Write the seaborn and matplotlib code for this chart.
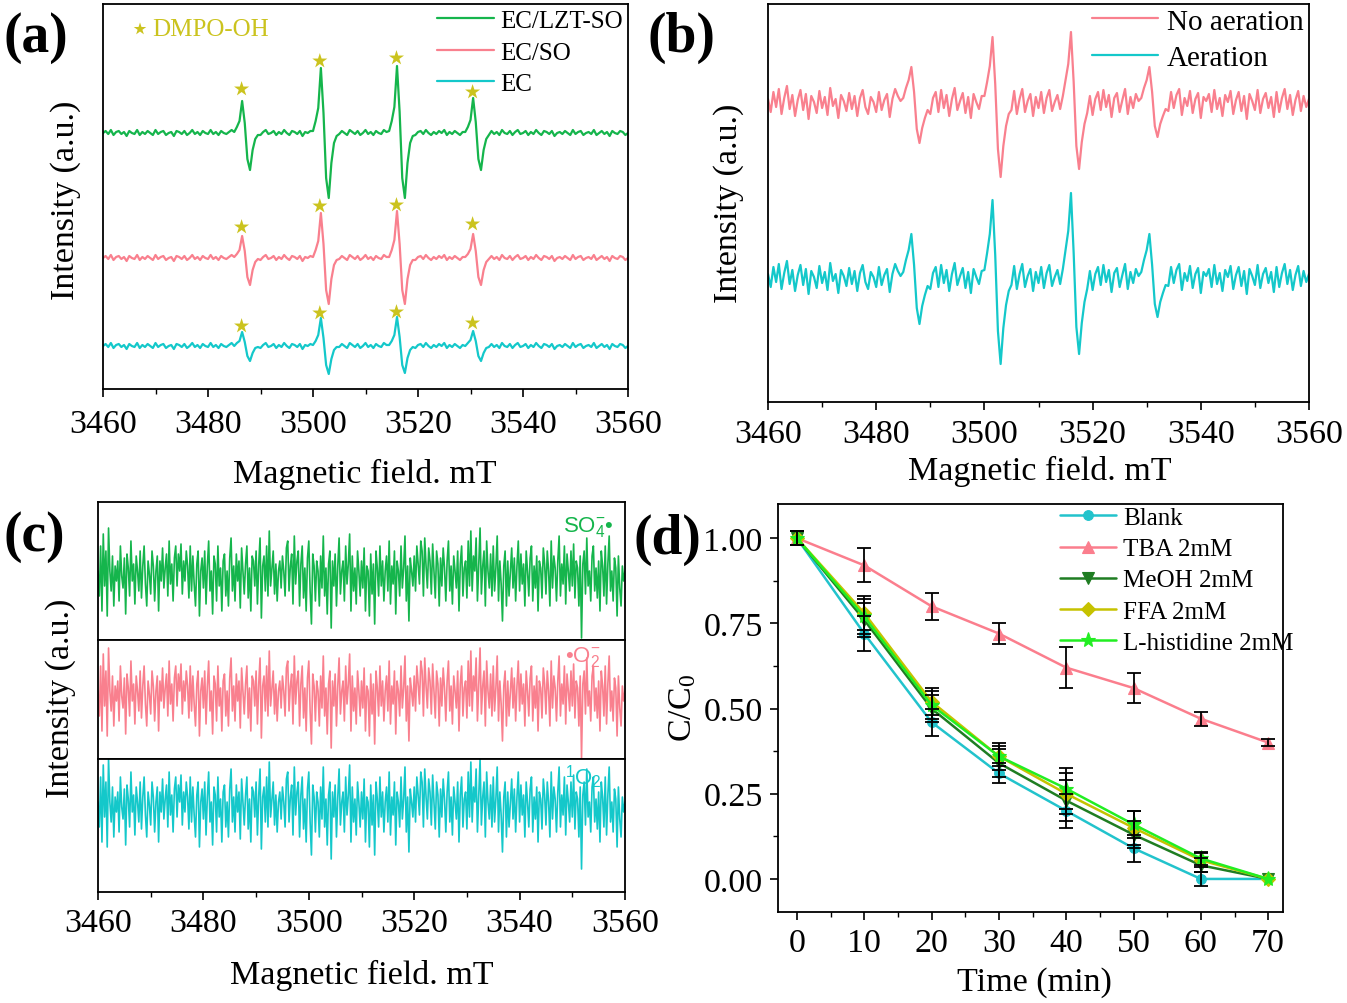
import numpy as np
import pandas as pd
import matplotlib
matplotlib.use("Agg")
import matplotlib.pyplot as plt
import seaborn as sns
from matplotlib.ticker import MultipleLocator, NullLocator, FormatStrFormatter

# ============================ DATA ============================
FIELD_RANGE = [3460, 3560]

# ---- (a) DMPO-OH spectra (0.5 mT steps): baseline noise segments + 4 line shapes
A_NOISE = [
    [0, 2, -1, 3, -2, 1, 2, -1, 1, -3, 2, 0, -1, 3, -2, 1, -1, 2, 0, -2,
     3, -1, 1, 2, -2, 0, 1, -3, 2, 1, -1, 2, -2, 0, 3, -1, 1, -2, 2, 0,
     -1, 3, -1, 1, -2, 2, 0, -1, 1, 3],
    [-2, 1, 3, -1, 0, 2, -2, 1, -1, 3, 0, -2, 2, 1, -1, 2, -3, 1, 0, 2],
    [-1, 2, 0, -2, 3, 1, -1, 2, -2, 0, 3, -1, 1, -2, 2, 0, -1, 3, 1],
    [-2, 1, 2, -1, 3, 0, -2, 1, -1, 2, 0, 3, -2, 1, -1, 2, 0, -2, 1],
    [2, -1, 1, -2, 3, 0, -1, 2, -2, 1, 3, -1, 0, 2, -2, 1, -1, 3, 0, -2,
     2, 1, -1, 2, -3, 0, 1, -1, 2, 0, -2, 3, -1, 1, 2, -2, 0, 1, -1, 3,
     -2, 0, 2, -1, 1, -3, 2, 0, -1, 2, 1, -2, 0],
]
A_PEAKS_LZT = [[1, 6, 12, 32, 10, -26, -37, -17, -6, -2],
               [2, 12, 25, 65, 20, -45, -65, -30, -10, -3],
               [2, 12, 26, 67, 21, -45, -65, -30, -10, -3],
               [1, 6, 13, 35, 11, -26, -37, -17, -6, -2]]
A_PEAKS_SO = [[1, 4, 8, 22, 7, -19, -27, -12, -4, -1],
              [1, 8, 17, 45, 14, -32, -46, -21, -7, -2],
              [1, 8, 18, 47, 14, -32, -46, -21, -7, -2],
              [1, 4, 9, 24, 7, -19, -27, -12, -4, -1]]
A_PEAKS_EC = [[0, 3, 5, 14, 4, -10, -15, -7, -2, -1],
              [1, 5, 11, 28, 8, -19, -28, -13, -4, -1],
              [1, 5, 11, 29, 9, -19, -27, -12, -4, -1],
              [0, 3, 6, 15, 5, -10, -15, -7, -2, -1]]
A_STAR_FIELD = [3486.4, 3501.3, 3515.9, 3530.4]
A_STAR_LZT = [44, 72, 75, 41]
A_STAR_SO = [31, 52, 53, 34]
A_STAR_EC = [20, 33, 34, 23]
A_LABELS = ["EC/LZT-SO", "EC/SO", "EC"]

# ---- (b) aeration spectra
B_NOISE = [
    [5, -8, 12, -3, 15, -10, 6, 18, -5, 9, -12, 4, 14, -6, 10, -15, 8, 2, -9, 13,
     -4, 7, -11, 16, -2, 5, -14, 9, 3, -7, 11, -5, 8, -12, 6, 14, -3, -10, 7, 2,
     -8, 12, -6, 4, 10, -13, 5, 15, 8, 3],
    [-10, 6, 12, -8, 14, -4, 9, -12, 5, 16, -6, 3, 11, -9, 7, -14, 10, 2, -5, 8],
    [-6, 13, -10, 5, 15, -8, 3, 10, -12, 7, -4, 12, -9, 6, 14, -7, 2, 9, -5],
    [8, -11, 5, 12, -6, 14, -3, 9, -13, 6, 11, -8, 4, 15, -10, 7, -4, 10, 3],
    [-7, 12, -4, 9, 15, -11, 6, -2, 13, -9, 5, 11, -14, 7, 3, 10, -8, 14, -5, 6,
     -12, 9, 2, 13, -10, 4, 12, -7, 8, -15, 10, 3, -6, 14, -9, 5, 11, -4, 7, -13,
     12, -8, 6, 15, -5, 9, -11, 4, 13, -7, 8, -3, 5],
]
B_PEAKS_NO = [[6, 16, 24, 37, 12, -25, -39, -24, -14, -6],
              [8, 22, 38, 67, 20, -45, -73, -42, -22, -10],
              [8, 24, 40, 72, 22, -42, -65, -38, -20, -9],
              [6, 16, 24, 37, 12, -22, -33, -20, -12, -5]]
B_PEAKS_AIR = [[7, 19, 29, 45, 14, -29, -45, -27, -16, -7],
               [9, 26, 45, 79, 24, -52, -85, -49, -26, -12],
               [10, 29, 48, 86, 26, -48, -75, -44, -23, -10],
               [7, 19, 29, 45, 14, -25, -38, -23, -14, -6]]
B_LABELS = ["No aeration", "Aeration"]

# ---- (c) silent spectra (0.25 mT steps)
C_NOISE = [
    5, -20, 30, -35, 42, -10, 25, -40, 48, 5, -15, 20, -30, 10, -5, 15, -25, 30, 0, -12,
    18, -38, 22, 8, -20, 35, -5, 12, -28, 20, 5, -15, 25, -22, 10, 30, -8, -30, 15, 2,
    -18, 25, 10, -25, 5, 20, -35, 15, -5, 28, -12, 8, 22, -20, 35, -8, 12, -25, 18, 30,
    -10, 22, 5, 32, -18, 15, -5, 25, 10, -22, 30, -15, 20, -8, -30, 12, 25, -40, 5, 18,
    -12, 25, -28, 10, 35, -15, 5, -38, 20, 12, -25, 30, -10, 8, -35, 15, 22, -20, 5, -30,
    18, 38, -15, 10, -25, 22, -5, 15, -32, 28, 5, -18, 12, 30, -22, 8, -35, 20, 15, -10,
    25, -28, 12, 38, -42, 10, 20, -15, 30, -20, 45, -10, 8, 25, -18, 12, -25, 5, 15, -12,
    20, 5, -20, 28, 35, -15, 10, 22, -28, 40, -8, 15, 25, -30, 12, 30, -22, 8, -35, 18,
    35, -15, -48, 22, 10, -25, 15, 5, -30, 20, -12, 40, -20, 8, -38, 12, 25, -52, 15, -10,
    22, -30, 10, 38, -18, 5, 15, -25, 30, -8, 12, 42, -35, 20, -15, 8, -28, 25, 5, -20,
    15, -12, 28, -35, 10, 5, -40, 22, -18, 12, -48, 25, 8, -20, 30, -10, 15, -25, 5, 20,
    -15, 35, -28, 10, -8, 25, -38, 15, 5, -20, 30, -12, 8, 40, -25, 10, -45, 18, 5, -10,
    20, -15, 30, 12, -8, 35, 25, -20, 38, 10, -12, 28, 15, -18, 32, 5, -22, 25, 12, -30,
    18, -10, 28, 8, -25, 15, 35, -15, 10, -28, 20, 5, -12, 25, -35, 12, 30, -20, 8, 15,
    -22, 35, -10, 45, -15, 20, 5, 38, -25, 12, 48, -18, 10, 25, -30, 35, 5, -12, 22, -20,
    30, -15, 8, 40, -25, 15, -8, -45, 10, 25, -30, 15, -20, 5, 28, -12, 18, -25, 10, 35,
    -15, 22, -8, 12, -30, 25, 5, -20, 18, 30, -25, 10, -12, 20, -35, 15, 8, -22, 28, 12,
    -18, 25, 5, -30, 35, -12, 20, 8, -25, 15, 40, -20, 12, -8, 30, -28, 22, 5, -15, 25,
    -10, 32, -22, 15, 8, -30, 20, -62, 12, 25, -18, 38, -10, 5, -25, 20, 30, -15, 8, -22,
    15, -35, 25, 10, -20, 30, -28, 12, 40, -15, 5, -25, 18, 8, -40, 20, -12, -30, 10, -5,
    5,
]

# ---- (d) degradation with scavengers
TIME = [0, 10, 20, 30, 40, 50, 60, 70]
BLANK = [1.00, 0.72, 0.46, 0.31, 0.20, 0.09, 0.00, 0.00]
BLANK_ERR = [0.02, 0.05, 0.04, 0.03, 0.05, 0.04, 0.02, 0.0]
TBA = [1.00, 0.92, 0.80, 0.72, 0.62, 0.56, 0.47, 0.40]
TBA_ERR = [0.02, 0.05, 0.04, 0.03, 0.06, 0.045, 0.02, 0.01]
MEOH = [1.00, 0.76, 0.50, 0.34, 0.23, 0.13, 0.04, 0.00]
MEOH_ERR = [0.02, 0.05, 0.04, 0.04, 0.06, 0.04, 0.02, 0.0]
FFA = [1.00, 0.78, 0.52, 0.36, 0.25, 0.15, 0.055, 0.00]
FFA_ERR = [0.02, 0.05, 0.04, 0.04, 0.06, 0.05, 0.02, 0.0]
LHIS = [1.00, 0.77, 0.51, 0.36, 0.265, 0.16, 0.06, 0.00]
LHIS_ERR = [0.02, 0.05, 0.04, 0.03, 0.06, 0.04, 0.02, 0.0]
D_LABELS = ["Blank", "TBA 2mM", "MeOH 2mM", "FFA 2mM", "L-histidine 2mM"]

# ============================ STYLE ============================
sns.set_style("ticks")
plt.rcParams["font.family"] = ["Liberation Serif", "DejaVu Serif"]
plt.rcParams["mathtext.fontset"] = "custom"
plt.rcParams["mathtext.rm"] = "Liberation Serif"
plt.rcParams["mathtext.it"] = "Liberation Serif:italic"
plt.rcParams["axes.edgecolor"] = "black"
plt.rcParams["axes.linewidth"] = 1.3
plt.rcParams["xtick.color"] = "black"
plt.rcParams["ytick.color"] = "black"
plt.rcParams["text.color"] = "black"

GREEN = "#15B54C"
PINK = "#F9808E"
CYAN = "#14C8CA"
STAR = "#CBC31E"
A_COLORS = [GREEN, PINK, CYAN]
A_OFFSET = [256, 131, 43]
B_COLORS = [PINK, CYAN]
B_OFFSET = [298, 123]

W, H = 1347, 1004
fig = plt.figure(figsize=(W / 100, H / 100), dpi=100)


def box(l, t, r, b):
    return [l / W, 1 - b / H, (r - l) / W, (b - t) / H]


def assemble(noise, peaks):
    out = []
    for seg, pk in zip(noise, peaks):
        out.extend(seg)
        out.extend(pk)
    out.extend(noise[-1])
    return np.array(out, dtype=float)


def field_axis(ax, labels=True, pad=7):
    ax.set_xlim(*FIELD_RANGE)
    ax.xaxis.set_major_locator(MultipleLocator(20))
    ax.xaxis.set_minor_locator(MultipleLocator(10))
    ax.yaxis.set_major_locator(NullLocator())
    ax.yaxis.set_minor_locator(NullLocator())
    ax.tick_params(axis="x", which="major", direction="out", length=6, width=1.2,
                   labelsize=24.5, pad=pad, bottom=labels, labelbottom=labels, top=False)
    ax.tick_params(axis="x", which="minor", direction="out", length=3.5, width=1.0,
                   bottom=labels, top=False)
    ax.set_xlabel("")
    ax.set_ylabel("")


# ============================ (a) ============================
axA = fig.add_axes(box(103, 5, 628, 390))
for lab, peaks, stars, col, off in zip(A_LABELS, [A_PEAKS_LZT, A_PEAKS_SO, A_PEAKS_EC],
                                        [A_STAR_LZT, A_STAR_SO, A_STAR_EC], A_COLORS, A_OFFSET):
    y = assemble(A_NOISE, peaks) + off
    x = np.linspace(FIELD_RANGE[0], FIELD_RANGE[1], len(y))
    df = pd.DataFrame({"field": x, "intensity": y})
    sns.lineplot(data=df, x="field", y="intensity", color=col, lw=1.6, ax=axA,
                 label=lab, estimator=None, sort=False)
    sns.scatterplot(x=A_STAR_FIELD, y=np.array(stars) + off, marker="*", s=130,
                    color=STAR, edgecolor="none", ax=axA, legend=False, zorder=4)
axA.set_ylim(0, 385)
field_axis(axA, pad=8)
axA.legend(loc="upper right", bbox_to_anchor=(0.995, 0.992), frameon=False, fontsize=18,
           handlelength=2.3, handletextpad=0.25, labelspacing=0.36, borderaxespad=0, borderpad=0.1)
axA.scatter([0.0705], [0.935], transform=axA.transAxes, marker="*", s=90, color=STAR,
            edgecolor="none")
axA.text(0.093, 0.935, "DMPO-OH", transform=axA.transAxes, va="center", ha="left",
         color=STAR, fontsize=18)

# ============================ (b) ============================
axB = fig.add_axes(box(768, 5, 1309, 403))
for lab, peaks, col, off in zip(B_LABELS, [B_PEAKS_NO, B_PEAKS_AIR], B_COLORS, B_OFFSET):
    y = assemble(B_NOISE, peaks) + off
    x = np.linspace(FIELD_RANGE[0], FIELD_RANGE[1], len(y))
    df = pd.DataFrame({"field": x, "intensity": y})
    sns.lineplot(data=df, x="field", y="intensity", color=col, lw=1.6, ax=axB,
                 label=lab, estimator=None, sort=False)
axB.set_ylim(0, 398)
field_axis(axB, pad=6)
axB.legend(loc="upper right", bbox_to_anchor=(0.995, 0.997), frameon=False, fontsize=21,
           handlelength=2.27, handletextpad=0.28, labelspacing=0.36, borderaxespad=0, borderpad=0.1)

# ============================ (c) ============================
c_boxes = [box(98, 503, 625, 641), box(98, 641, 625, 760), box(98, 760, 625, 893)]
c_ylims = [(-64, 74), (-63, 56), (-85, 48)]
c_colors = [GREEN, PINK, CYAN]
c_tags = ["SO$_\\mathregular{4}^\\mathregular{-}$\u2022", "\u2022O$_\\mathregular{2}^\\mathregular{-}$",
          "$^\\mathregular{1}$O$_\\mathregular{2}$"]
c_tagpos = [(0.979, 0.826), (0.953, 0.866), (0.955, 0.872)]
cy = np.array(C_NOISE, dtype=float)
cx = np.linspace(FIELD_RANGE[0], FIELD_RANGE[1], len(cy))
c_df = pd.DataFrame({"field": cx, "intensity": cy})
for i in range(3):
    ax = fig.add_axes(c_boxes[i])
    sns.lineplot(data=c_df, x="field", y="intensity", color=c_colors[i], lw=1.2, ax=ax,
                 estimator=None, sort=False)
    ax.set_ylim(*c_ylims[i])
    field_axis(ax, labels=(i == 2), pad=5)
    ax.text(c_tagpos[i][0], c_tagpos[i][1], c_tags[i], transform=ax.transAxes,
            ha="right", va="center", color=c_colors[i], fontsize=16,
            family=["Liberation Sans", "DejaVu Sans"])

# ============================ (d) ============================
axD = fig.add_axes(box(778, 505, 1283, 913))
d_series = [
    (D_LABELS[0], BLANK, BLANK_ERR, "#22C3CC", "o", 7),
    (D_LABELS[1], TBA, TBA_ERR, "#FB7E8D", "^", 9),
    (D_LABELS[2], MEOH, MEOH_ERR, "#1F7D22", "v", 9),
    (D_LABELS[3], FFA, FFA_ERR, "#C6C200", "D", 7),
    (D_LABELS[4], LHIS, LHIS_ERR, "#22EE22", "*", 11),
]
for lab, vals, err, col, mk, ms in d_series:
    df = pd.DataFrame({"time": TIME, "ratio": vals})
    sns.lineplot(data=df, x="time", y="ratio", color=col, lw=1.8, marker=mk, markersize=ms,
                 markeredgecolor=col, markeredgewidth=0.8, ax=axD, label=lab, estimator=None)
for lab, vals, err, col, mk, ms in d_series:
    t = np.array(TIME, dtype=float)
    v = np.array(vals)
    e = np.array(err)
    keep = e > 0
    axD.errorbar(t[keep], v[keep], yerr=e[keep], fmt="none", ecolor="black",
                 elinewidth=1.3, capsize=5, capthick=1.3, zorder=5)
axD.set_xlim(-2.8, 72.2)
axD.set_ylim(-0.097, 1.10)
axD.xaxis.set_major_locator(MultipleLocator(10))
axD.xaxis.set_minor_locator(MultipleLocator(5))
axD.yaxis.set_major_locator(MultipleLocator(0.25))
axD.yaxis.set_minor_locator(MultipleLocator(0.125))
axD.yaxis.set_major_formatter(FormatStrFormatter("%.2f"))
axD.tick_params(which="major", direction="out", length=6, width=1.2, labelsize=24.5, pad=5,
                top=False, right=False)
axD.tick_params(which="minor", direction="out", length=3.5, width=1.0, top=False, right=False)
axD.set_xlabel("")
axD.set_ylabel("")
axD.legend(loc="upper left", bbox_to_anchor=(0.5525, 1.0), frameon=False, fontsize=18,
           handlelength=2.25, handletextpad=0.28, labelspacing=0.35, borderaxespad=0, borderpad=0.1)

# ============================ labels ============================
lab_kw = dict(fontsize=24.5, ha="center", va="center")
fig.text(66 / W, 1 - 200 / H, "Intensity (a.u.)", rotation=90, **lab_kw)
fig.text(729 / W, 1 - 203 / H, "Intensity (a.u.)", rotation=90, **lab_kw)
fig.text(61 / W, 1 - 698 / H, "Intensity (a.u.)", rotation=90, **lab_kw)
fig.text(683 / W, 1 - 708 / H, "C/C$_\\mathregular{0}$", rotation=90, **lab_kw)
fig.text(365 / W, 1 - 474 / H, "Magnetic field. mT", **lab_kw)
fig.text(1040 / W, 1 - 471 / H, "Magnetic field. mT", **lab_kw)
fig.text(362 / W, 1 - 975 / H, "Magnetic field. mT", **lab_kw)
fig.text(1034 / W, 1 - 983 / H, "Time (min)", **lab_kw)

pan_kw = dict(fontsize=40, fontweight="bold", ha="left", va="center")
fig.text(3 / W, 1 - 38 / H, "(a)", **pan_kw)
fig.text(648 / W, 1 - 38 / H, "(b)", **pan_kw)
fig.text(3 / W, 1 - 537 / H, "(c)", **pan_kw)
fig.text(634 / W, 1 - 540 / H, "(d)", **pan_kw)

fig.savefig("out.png", dpi=100)
